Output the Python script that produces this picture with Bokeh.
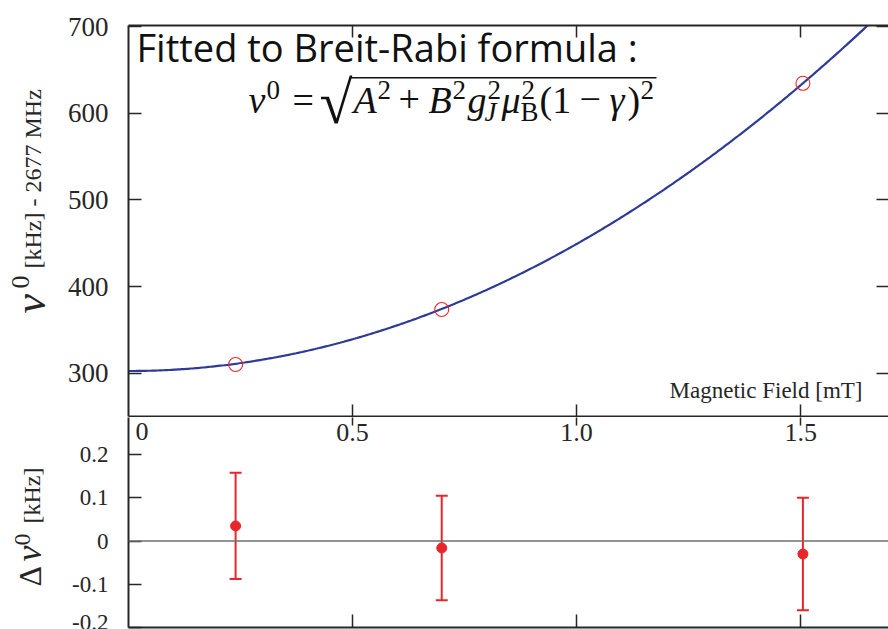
import numpy as np
from bokeh.plotting import figure
from bokeh.layouts import column, row
from bokeh.models import (Range1d, LinearAxis, FixedTicker, Label, Span,
                          Whisker, TeeHead, ColumnDataSource, BoxAnnotation,
                          CustomJSTickFormatter, PrintfTickFormatter)
from bokeh.embed import file_html
from bokeh.resources import INLINE

# ---- measurements ----
field_mT = [0.239, 0.699, 1.505]
nu0_kHz = [310.0, 373.5, 634.5]            # nu0 - 2677 MHz, in kHz
resid_kHz = [0.035, -0.016, -0.030]
resid_err_kHz = [0.123, 0.121, 0.130]

# ---- Breit-Rabi fit parameters ----
A_kHz = 2677302.5
gJmuB_kHz_per_mT = 28016.0
nu_offset_kHz = 2677000.0

# ---- axes ----
x_ticks = [0.5, 1.0, 1.5]
nu_ticks = [300, 400, 500, 600, 700]
resid_ticks = [-0.2, -0.1, 0, 0.1, 0.2]

X_END = 1.696
NU_RANGE = (250.0, 701.2)
RES_RANGE = (-0.2, 0.286)

# layout geometry (pixels)
W, H = 888, 629
SIDE_W = 60                 # strip holding the rotated y titles
LEFT = 128                  # page x of the plot frames' left edge
TOP_H, TOP_BORDER, TOP_FRAME_H = 417, 25, 391
BOT_H, BOT_FRAME_H = 212, 210

INK = "#262626"
SERIF = "Liberation Serif"
BLUE = "#2d3a97"
RED = "#e8262b"
DROP = 0.33                 # label baseline compensation, in em


def top_pt(px, py):
    x = (px - LEFT) / (W - LEFT) * X_END
    y = NU_RANGE[1] - (py - TOP_BORDER) / TOP_FRAME_H * (NU_RANGE[1] - NU_RANGE[0])
    return x, y


def bot_pt(px, py):
    x = (px - LEFT) / (W - LEFT) * X_END
    y = RES_RANGE[1] - (py - TOP_H) / BOT_FRAME_H * (RES_RANGE[1] - RES_RANGE[0])
    return x, y


def side_pt(px, py):
    return px, py


def put(fig, conv, px, py, text, size, font=SERIF, style="normal",
        angle=0.0, align="left", color=INK):
    if angle:
        px = px - DROP * size
    else:
        py = py - DROP * size
    x, y = conv(px, py)
    fig.add_layout(Label(x=x, y=y, text=text, text_font=font,
                         text_font_size=f"{size}px", text_font_style=style,
                         text_align=align, text_baseline="alphabetic",
                         angle=angle, text_color=color))


def make_axis(ticks, tick_in, tick_out=0, label_size=None, standoff=20,
              line=True, formatter=None):
    ax = LinearAxis(ticker=FixedTicker(ticks=ticks))
    ax.major_tick_in = tick_in
    ax.major_tick_out = tick_out
    ax.minor_tick_line_color = None
    ax.major_tick_line_color = INK
    ax.major_tick_line_width = 1.5
    ax.axis_line_color = INK if line else None
    ax.axis_line_width = 2
    if label_size is None:
        ax.major_label_text_font_size = "0px"
        ax.major_label_standoff = 0
        ax.major_label_text_alpha = 0
    else:
        ax.major_label_text_font = SERIF
        ax.major_label_text_font_size = f"{label_size}px"
        ax.major_label_text_color = INK
        ax.major_label_standoff = standoff
        if formatter is not None:
            ax.formatter = formatter
    return ax


def bare(fig):
    fig.grid.visible = False
    fig.outline_line_color = None


# ================= top panel: nu0 vs field =================
top = figure(width=W - SIDE_W, height=TOP_H, x_range=Range1d(0, X_END),
             y_range=Range1d(*NU_RANGE), output_backend="svg",
             toolbar_location=None, x_axis_location=None, y_axis_location=None,
             min_border_left=LEFT - SIDE_W, min_border_right=0,
             min_border_top=TOP_BORDER, min_border_bottom=1)
bare(top)

top.add_layout(make_axis(nu_ticks, 13, label_size=27, standoff=20), "left")
top.add_layout(make_axis(nu_ticks, 12, line=False), "right")
top.add_layout(make_axis(x_ticks, 12), "above")
top.add_layout(make_axis(x_ticks, 12), "below")

b = np.linspace(0, X_END, 400)
nu_fit = np.sqrt(A_kHz ** 2 + (gJmuB_kHz_per_mT * b) ** 2) - nu_offset_kHz
top.line(b, nu_fit, line_color=BLUE, line_width=2.2)
top.scatter(field_mT, nu0_kHz, marker="circle", size=14, fill_color=None,
            line_color=RED, line_width=1.1)

# title and formula
put(top, top_pt, 136, 59, "Fitted to Breit-Rabi formula :", 38, font="Open Sans",
    color="#111111")
FB, SUP, SUB = 112, 98, 120      # baselines: main, superscript, subscript
M, S = 38, 27                    # main / script font sizes
formula = [
    ("\u03bd", 248, FB, M, "italic"),
    ("0", 266, SUP, S, "normal"),
    ("=", 292, FB, M, "normal"),
    ("\u221a", 319, FB + 10, 60, "normal"),
    ("A", 353, FB, M, "italic"),
    ("2", 377, SUP, S, "normal"),
    ("+", 398, FB, M, "normal"),
    ("B", 428, FB, M, "italic"),
    ("2", 452, SUP, S, "normal"),
    ("g", 467, FB, M, "italic"),
    ("2", 487, SUP, S, "normal"),
    ("J", 484, SUB, S, "italic"),
    ("\u03bc", 501, FB, M, "italic"),
    ("2", 521, SUP, S, "normal"),
    ("B", 520, SUB, S, "normal"),
    ("(1", 539, FB, M, "normal"),
    ("\u2212", 579, FB, M, "normal"),
    ("\u03b3", 609, FB, M, "italic"),
    (")", 627, FB, M, "normal"),
    ("2", 640, SUP, S, "normal"),
]
for txt, px, py, size, style in formula:
    put(top, top_pt, px, py, txt, size, style=style, color="#111111")
# vinculum of the square root
l, t_ = top_pt(350, 76.5)
r, b_ = top_pt(656, 78.0)
top.add_layout(BoxAnnotation(left=l, right=r, top=t_, bottom=b_,
                             fill_color="#111111", fill_alpha=1.0, line_color=None))

put(top, top_pt, 862, 398, "Magnetic Field [mT]", 23, align="right")

# ================= bottom panel: residuals =================
bot = figure(width=W - SIDE_W, height=BOT_H, x_range=top.x_range,
             y_range=Range1d(*RES_RANGE), output_backend="svg",
             toolbar_location=None, x_axis_location=None, y_axis_location=None,
             min_border_left=LEFT - SIDE_W, min_border_right=0,
             min_border_top=0, min_border_bottom=BOT_H - BOT_FRAME_H)
bare(bot)

resid_fmt = CustomJSTickFormatter(code="return tick == 0 ? '0' : tick.toFixed(1);")
bot.add_layout(make_axis(resid_ticks, 13, label_size=23, standoff=20,
                         formatter=resid_fmt), "left")
bot.add_layout(make_axis(x_ticks, 13), "below")
bot.add_layout(make_axis(x_ticks, 8, label_size=26, standoff=-23, line=False,
                         formatter=PrintfTickFormatter(format="%.1f")), "above")
put(bot, bot_pt, 141.5, 440, "0", 26, align="center")

bot.add_layout(Span(location=0, dimension="width", line_color="#6e6e6e",
                    line_width=1.5))

src = ColumnDataSource(dict(
    x=field_mT, y=resid_kHz,
    upper=[v + e for v, e in zip(resid_kHz, resid_err_kHz)],
    lower=[v - e for v, e in zip(resid_kHz, resid_err_kHz)],
))
bot.add_layout(Whisker(base="x", upper="upper", lower="lower", source=src,
                       line_color=RED, line_width=2,
                       upper_head=TeeHead(size=12, line_color=RED, line_width=2),
                       lower_head=TeeHead(size=12, line_color=RED, line_width=2)))
bot.scatter("x", "y", source=src, marker="circle", size=10,
            fill_color=RED, line_color=RED)

# ================= side strip: rotated y titles =================
side = figure(width=SIDE_W, height=H, x_range=Range1d(0, SIDE_W),
              y_range=Range1d(H, 0), output_backend="svg",
              toolbar_location=None, x_axis_location=None, y_axis_location=None,
              min_border_left=0, min_border_right=0, min_border_top=0,
              min_border_bottom=0)
bare(side)
rot = np.pi / 2
put(side, side_pt, 45, 313, "\u03bd", 44, style="italic", angle=rot)
put(side, side_pt, 29, 288, "0", 26, angle=rot)
put(side, side_pt, 40, 268, "[kHz] - 2677 MHz", 24, angle=rot)
put(side, side_pt, 40, 586, "\u0394", 32, angle=rot)
put(side, side_pt, 40, 561, "\u03bd", 36, style="italic", angle=rot)
put(side, side_pt, 30, 545, "0", 24, angle=rot)
put(side, side_pt, 39, 523, "[kHz]", 24, angle=rot)

layout = row(side, column(top, bot, spacing=0), spacing=0)
open("out.html", "w").write(file_html(layout, INLINE))
